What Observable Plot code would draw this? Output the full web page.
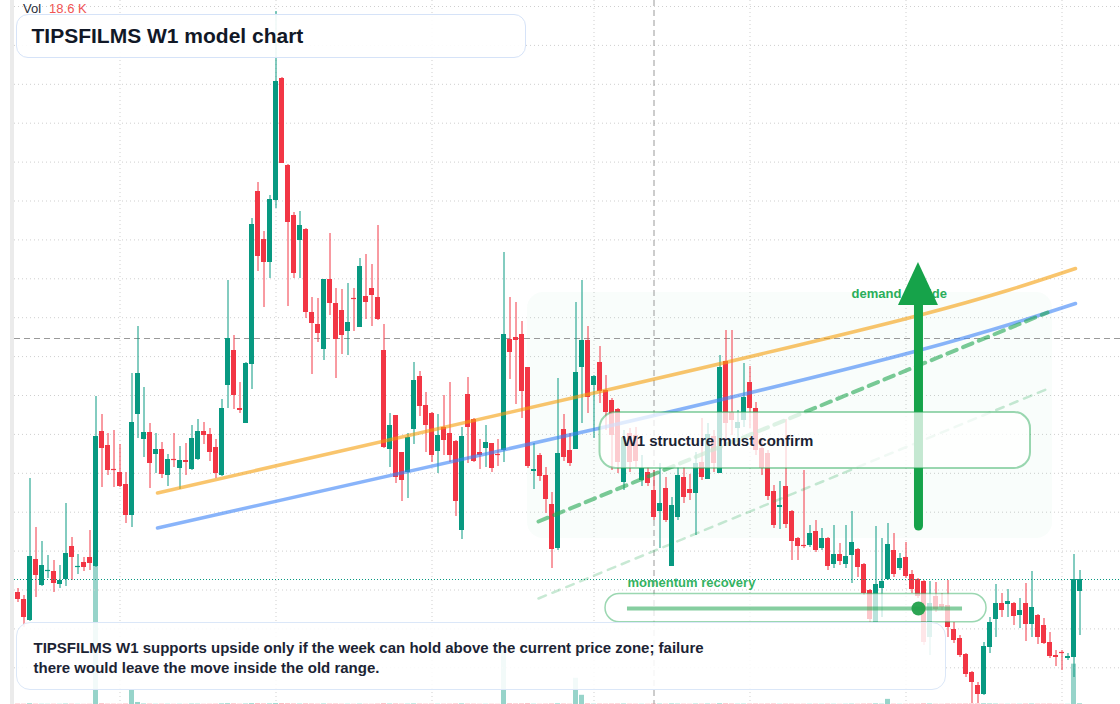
<!DOCTYPE html>
<html>
<head>
<meta charset="utf-8">
<script src="https://cdn.jsdelivr.net/npm/d3@7"></script>
<script src="https://cdn.jsdelivr.net/npm/@observablehq/plot@0.6"></script>
<style>
  html, body { margin: 0; padding: 0; background: #ffffff; }
  #wrap { position: relative; width: 1120px; height: 704px; overflow: hidden; background: #ffffff;
          font-family: "Liberation Sans", Arial, sans-serif; }
  #wrap .layer { position: absolute; left: 0; top: 0; }
  #wrap .layer svg { display: block; }
  .band { position: absolute; left: 10px; top: 0; width: 4px; height: 704px; background: #ebebeb; }
  .legend { position: absolute; left: 23px; top: 1px; font-size: 13px; line-height: 15px; color: #2a2e39; white-space: pre; }
  .legend .val { color: #f05454; margin-left: 8px; }
  .title { position: absolute; left: 16px; top: 14px; width: 510px; height: 44px; box-sizing: border-box;
           border: 1.5px solid #d6e3f8; border-radius: 12px; background: rgba(255,255,255,0.9);
           font-weight: 700; font-size: 21px; color: #111827; line-height: 41px; padding-left: 14.5px; }
  .caption { position: absolute; left: 16px; top: 622px; width: 930px; height: 68px; box-sizing: border-box;
             border: 1.5px solid #dbe7f8; border-radius: 14px; background: rgba(255,255,255,0.88);
             font-weight: 700; font-size: 15px; color: #1c2434; line-height: 20px;
             padding-left: 16.5px; padding-top: 14.5px; }
</style>
</head>
<body>
<div id="wrap">
  <div class="layer" id="volLayer"></div>
  <div class="layer" id="mainLayer"></div>
  <div class="band"></div>
  <div class="legend" id="legend"></div>
  <div class="title" id="title"></div>
  <div class="caption" id="caption"></div>
</div>
<script>
// ---------------- data (weekly candles, index 0..177) ----------------
const open = [
  128,126.25,121,136.25,129.75,133.25,133.25,130,131.25,139.5,
  134.25,135.5,136.75,134.5,168.25,164.75,158.75,158,155,147.25,
  172.5,166.25,168,162.5,163.75,157.25,161.25,159,161,158.75,
  161.25,168.25,167.5,164.25,157.25,179.75,188.5,174,170.25,185,
  228.25,216.25,210.5,226,256.5,234.75,222.25,216,218.75,198,
  195,188.75,206.25,200.25,198.5,193.25,201.5,194.25,202,204,
  201.75,188.5,163.75,172.25,163,158,168.75,182,174.75,172.75,
  163.25,169.25,167.75,165.75,143.5,177.5,171.25,163,164,165.25,
  162.5,163.5,191.25,191.75,192.5,184.25,158.25,162.25,157.25,150,
  139,168.75,163.5,163.75,184.25,191,179.75,185.5,178.5,176,
  173.75,155.5,167.75,167.25,156,158,153.5,148.25,154,134.5,
  146.75,156.75,153.75,152.75,160.5,156.25,167,157.75,185.75,173,
  169,171,180.5,174,164,162.75,153.25,149.25,154.5,148.25,
  141.5,139.75,139.75,143.25,139,141.5,135,137.5,135,137.25,
  138.75,135,128.5,120.5,129,131.25,138.5,134,136.75,132.5,
  131.25,130.75,116.75,127,125,124.75,118.75,116.5,112.5,108,
  104.75,102.5,114.25,121.25,125.25,125,125.25,122.25,125.25,120,
  122.25,119.75,115.5,112.25,113,111.5,111.75,128.25
];
const close = [
  126.25,121.75,137,132.25,134.75,133.5,130.25,131,137.75,136.75,
  134.5,134.25,135.25,167,164,158.5,158.5,154.5,147.25,170.5,
  182.75,168,160.25,163.75,157.5,161.25,161,161,160.5,166.5,
  168.25,167.25,163,157.75,174,191.5,177.25,173.5,185.25,220,
  212,210.5,226.25,255.75,235.25,220.5,207.75,219.75,198,195.25,
  192.75,206.25,200.25,191.25,192.25,195.5,201.25,209.5,200.5,202.25,
  196.25,164.25,169.75,156.75,156,166.75,181,174.5,169.75,162.25,
  167.25,166,162.25,150.75,167,169.25,160.75,162.25,165.5,159,
  162.25,192.5,188,191,178.25,159.5,158.75,157,151.25,138.75,
  162.75,161.75,160.25,183,191,176.75,182,178.25,173,167.25,
  160.5,166.75,160.5,160.75,159,155.25,146.75,150.25,146,149.75,
  157.25,151.75,152.75,160.25,156.75,167.5,160.25,184.25,170.25,171,
  170.5,176.75,174,163.5,159,152,144.75,149.75,145,140.75,
  139.5,139.5,142.75,138.5,141.5,134.5,137.5,135.75,137,140.5,
  134.25,127.75,121.25,130,130.75,140,132.5,136.5,132,128.75,
  127,115.5,125.25,123.75,124.25,119.25,116,112.25,107.5,105.5,
  102.5,114.5,120.5,125.25,123.5,125.75,122,123.5,120,124.25,
  116.75,115.25,112,111.75,112.75,112,131.25,131.25
];
const high = [
  129,127.25,156.5,144.25,140.75,137.25,136,134.75,150.25,141.75,
  137.5,136.75,143.5,177,172.5,167.75,168.5,165,158,182.75,
  194.5,179.25,170.25,167.75,165.5,162.5,167.75,164.5,165.25,169.75,
  171.25,170.5,169,166.25,176.25,206,192.25,180.5,185.5,221.5,
  230.5,218.25,227.25,273.25,256.75,235,223,223.25,219,201.75,
  201.5,206.25,217.75,204,203.75,205.25,204,211.5,212.5,210,
  219.75,195,172.75,172.25,163,167.75,185.5,183.25,178,173,
  172.5,177.25,180.5,166,169.25,181.75,171.5,166.25,169.75,165.25,
  166.25,213,201.75,200.5,195.75,184.25,165.25,162.75,159.25,153,
  181.5,172.5,167.75,200.5,206,194.5,182.25,189.5,182.25,176.5,
  174,168.5,169,169.25,162.25,159.25,158.5,160.25,156.75,151.75,
  159.25,159.25,157.5,163,171.5,170.25,168.5,187.25,193.5,193.5,
  173.5,185.25,184.5,175.5,166,163.5,154.75,155.75,171.25,148.5,
  141.75,158.5,144.75,146,144,141.75,144.75,140.25,144.75,148.25,
  139,135.25,128.75,144.5,141.5,145.25,142.75,137.75,140.5,133.5,
  131.5,131,130.75,130.5,127.75,131,120.5,117.25,112.75,108.25,
  105.5,115.5,121.75,130,127.75,128.75,125.5,126.5,130.25,133.25,
  122.5,121.5,118,113.5,113.5,112.75,137.5,133.5
];
const low = [
  125.5,119.25,120.75,126.75,129.5,131.5,128,129,129.5,131,
  132.5,133.25,133.5,134.25,154.25,157.25,154.25,154.25,145.25,144.25,
  166.5,161.75,154,157.75,156.5,154.5,159.25,153.75,157.25,158.5,
  161,165,160.75,156.5,157,174,173.75,172.75,170.25,178.75,
  208.25,199.25,206.5,224,235.25,199.5,206.5,206.5,196.5,182.5,
  190.5,186,197.25,181.5,187.5,187.25,193.25,194.25,196.25,194.5,
  196,164,159.25,155.25,150.75,151.5,165,172,163,160.5,
  157.75,162.25,160.5,147,141.25,160.25,160.5,158.75,159.25,158,
  159.5,160.5,181.25,175,171.5,159,153.75,155.75,147.75,134,
  138.5,160.75,159.5,163.75,170.25,172.75,166.5,175.25,168.5,158.5,
  157.75,153.5,158,159.25,154.5,154.5,146,139,145.5,134.5,
  146,150.25,151,142.25,156,156.25,158,157.75,166,167.25,
  164.75,169.25,169,162.25,157.25,151,144,143.75,144,136,
  136,139,139.25,138,138.5,133.5,134,134.75,134,130.25,
  131.75,127.25,120.5,120.5,121.75,131,131.75,133.5,131.5,127.75,
  126.5,114.75,112.25,123,123.5,116.75,115.25,111.75,106.75,100.25,
  100.25,102.25,112.75,116.75,121.75,121.75,119.75,119,115.75,116.75,
  115,115,111.5,109.5,108.5,111,106.75,117.25
];
// volume in thousands
const volume = [
  14,11,26,12,9,7,10,8,15,12,
  7,6,9,5150,24,13,11,10,16,520,
  75,18,14,9,12,10,8,9,7,15,
  13,8,10,12,22,28,20,11,17,30,
  27,19,21,32,29,24,18,15,20,16,
  12,17,14,15,11,10,9,13,10,9,
  14,25,16,18,13,12,19,14,11,13,
  10,11,12,17,21,14,12,9,8,10,
  8,2000,22,17,19,26,11,10,13,18,
  24,15,11,970,340,21,12,14,13,15,
  16,17,12,11,9,10,18.6,15,12,19,
  14,11,9,15,13,16,12,25,22,16,
  11,13,14,15,12,14,16,9,13,12,
  8,10,9,11,8,12,9,7,9,13,
  10,14,16,21,12,190,11,8,10,12,
  11,22,18,10,8,14,12,13,15,17,
  16,24,19,15,9,8,10,9,14,16,
  12,11,13,8,9,7,1490,26
];

// axis / grid ticks (no labels shown in the chart)
const gridIdx = [17, 43, 69, 96, 122, 148, 174];
const gridPrices = d3.range(18).map(k => 274.5 - 9.725 * k);
const crossIdx = 106, crossPrice = 191.5;

// drawings (anchored at bar index / price)
const orangeTrend = [{i:23.25,p:152.875},{i:97.08,p:178.25},{i:150.08,p:197.25},{i:176.25,p:209}];
const blueTrend   = [{i:23.25,p:144.125},{i:97.08,p:169.125},{i:150.08,p:188.5},{i:176.25,p:200.25}];
const greenChannel = [{i:86.75,p:145.75},{i:171.58,p:198}];
const greenChannelLow = [{i:86.75,p:126.5},{i:171.75,p:179}];
const zone = {x1:84.92, x2:172.42, y1:141.5, y2:203};
const confirmBox = {x1:97.0, x2:168.75, y1:159, y2:173, text:"W1 structure must confirm", ti:100.75, tp:165.75};
const arrow = {i:150.08, p0:144.5, p1:200.5, base:199.75, tip:210.5, half:3.33};
const demandLabel = {i:138.92, p:202.75, text:"demand upside"};
const pill = {x1:97.92, x2:161.42, y1:120.575, y2:127.625};
const pillTrack = {i0:101.58, i1:157.42, p:124};
const pillMarker = {i:150.08, p:124};
const momentumLabel = {i:101.58, p:130.375, text:"momentum recovery"};

const titleText = "TIPSFILMS W1 model chart";
const captionLines = ["TIPSFILMS W1 supports upside only if the week can hold above the current price zone; failure",
                      "there would leave the move inside the old range."];

// ---------------- build ----------------
const W = 1120, H = 704;
const xDomain = [-17.5 / 6, (W - 17.5) / 6];
const yDomain = [100, 276];
const xLeft = (14 - 17.5) / 6;
const UP = "#089981", DOWN = "#f23645", GREEN = "#22a652";
const half = 2.5 / 6;

const candles = open.map((o, i) => {
  const c = close[i];
  let b0 = Math.min(o, c), b1 = Math.max(o, c);
  if (b1 - b0 < 0.3) { const m = (b0 + b1) / 2; b0 = m - 0.15; b1 = m + 0.15; }
  return {i, o, c, h: Math.max(high[i], o, c), l: Math.min(low[i], o, c), v: volume[i], up: c >= o, b0, b1};
});
const ups = candles.filter(d => d.up), downs = candles.filter(d => !d.up);

const volPlot = Plot.plot({
  width: W, height: H, margin: 0,
  style: {background: "transparent"},
  x: {domain: xDomain, axis: null},
  y: {domain: [0, 26000], axis: null},
  marks: [
    Plot.rect(ups, {x1: d => d.i - half, x2: d => d.i + half, y1: 0, y2: "v", fill: UP, fillOpacity: 0.42}),
    Plot.rect(downs, {x1: d => d.i - half, x2: d => d.i + half, y1: 0, y2: "v", fill: DOWN, fillOpacity: 0.42})
  ]
});
document.getElementById("volLayer").appendChild(volPlot);

const last = close[close.length - 1];
const headPts = [
  {i: arrow.i - arrow.half, p: arrow.base},
  {i: arrow.i, p: arrow.tip},
  {i: arrow.i + arrow.half, p: arrow.base}
];

const mainPlot = Plot.plot({
  width: W, height: H, margin: 0,
  style: {background: "transparent", fontFamily: "Liberation Sans, Arial, sans-serif"},
  x: {domain: xDomain, axis: null},
  y: {domain: yDomain, axis: null},
  marks: [
    Plot.ruleY(gridPrices, {x1: xLeft, x2: xDomain[1], stroke: "#cfcfcf", strokeDasharray: "1,3"}),
    Plot.ruleX(gridIdx, {stroke: "#cfcfcf", strokeDasharray: "1,3"}),
    Plot.rect([zone], {x1: "x1", x2: "x2", y1: "y1", y2: "y2", rx: 16, fill: "#22c55e", fillOpacity: 0.028}),
    Plot.ruleX([crossIdx], {stroke: "#9a9a9a", strokeDasharray: "6,4"}),
    Plot.ruleY([crossPrice], {x1: xLeft, x2: xDomain[1], stroke: "#9a9a9a", strokeDasharray: "6,4"}),
    // candles
    Plot.ruleX(ups, {x: "i", y1: "l", y2: "h", stroke: UP, strokeWidth: 1}),
    Plot.ruleX(downs, {x: "i", y1: "l", y2: "h", stroke: DOWN, strokeWidth: 1}),
    Plot.rect(ups, {x1: d => d.i - half, x2: d => d.i + half, y1: "b0", y2: "b1", fill: UP}),
    Plot.rect(downs, {x1: d => d.i - half, x2: d => d.i + half, y1: "b0", y2: "b1", fill: DOWN}),
    Plot.ruleY([last], {x1: xLeft, x2: xDomain[1], stroke: UP, strokeDasharray: "1,2"}),
    // drawings
    Plot.line(orangeTrend, {x: "i", y: "p", curve: "natural", stroke: "#f59e0b", strokeOpacity: 0.6, strokeWidth: 3.5}),
    Plot.line(blueTrend, {x: "i", y: "p", curve: "natural", stroke: "#3b82f6", strokeOpacity: 0.6, strokeWidth: 3.5}),
    Plot.line(greenChannel, {x: "i", y: "p", stroke: GREEN, strokeOpacity: 0.6, strokeWidth: 4, strokeDasharray: "10,7"}),
    Plot.line(greenChannelLow, {x: "i", y: "p", stroke: GREEN, strokeOpacity: 0.25, strokeWidth: 2.5, strokeDasharray: "8,7"}),
    Plot.text([demandLabel], {x: "i", y: "p", text: "text", textAnchor: "start", fontSize: 13, fontWeight: "bold", fill: "#2aae5a"}),
    Plot.ruleX([arrow], {x: "i", y1: "p0", y2: "p1", stroke: "#16a34a", strokeWidth: 9, strokeLinecap: "round"}),
    Plot.areaY(headPts, {x: "i", y1: arrow.base, y2: "p", fill: "#16a34a"}),
    Plot.rect([confirmBox], {x1: "x1", x2: "x2", y1: "y1", y2: "y2", rx: 16, fill: "white", fillOpacity: 0.75,
                             stroke: GREEN, strokeOpacity: 0.45, strokeWidth: 2}),
    Plot.text([confirmBox], {x: "ti", y: "tp", text: "text", textAnchor: "start", fontSize: 15, fontWeight: "bold", fill: "#1b2333"}),
    Plot.rect([pill], {x1: "x1", x2: "x2", y1: "y1", y2: "y2", rx: 14, fill: "white", fillOpacity: 0.72,
                       stroke: GREEN, strokeOpacity: 0.45, strokeWidth: 1.5}),
    Plot.ruleY([pillTrack], {y: "p", x1: "i0", x2: "i1", stroke: GREEN, strokeOpacity: 0.55, strokeWidth: 4}),
    Plot.dot([pillMarker], {x: "i", y: "p", r: 7, fill: "#22a04b", fillOpacity: 0.95}),
    Plot.text([momentumLabel], {x: "i", y: "p", text: "text", textAnchor: "start", fontSize: 13, fontWeight: "bold", fill: "#34b361"})
  ]
});
document.getElementById("mainLayer").appendChild(mainPlot);

// HTML overlays
document.getElementById("title").textContent = titleText;
const cap = document.getElementById("caption");
captionLines.forEach((t, k) => { if (k) cap.appendChild(document.createElement("br")); cap.appendChild(document.createTextNode(t)); });
const lg = document.getElementById("legend");
lg.innerHTML = "";
const s1 = document.createElement("span"); s1.textContent = "Vol"; lg.appendChild(s1);
const s2 = document.createElement("span"); s2.className = "val"; s2.textContent = volume[crossIdx].toFixed(1) + " K"; lg.appendChild(s2);
</script>
</body>
</html>
